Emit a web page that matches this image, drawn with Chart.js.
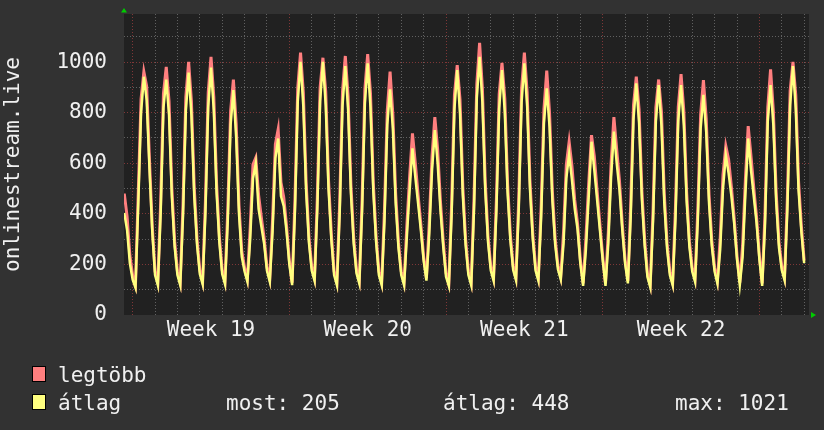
<!DOCTYPE html>
<html>
<head>
<meta charset="utf-8">
<script src="https://cdn.jsdelivr.net/npm/chart.js@4/dist/chart.umd.min.js"></script>
<style>
  html, body { margin: 0; padding: 0; background: #323232; }
  canvas { display: block; }
</style>
</head>
<body>
<canvas id="chart" width="824" height="430"></canvas>
<script>
// samples every 3 hours, hour 0 = start of Week 19
const firstHour = -9;
const hourStep = 3;

// átlag (average), one row per day: 0h 3h 6h 9h 12h 15h 18h 21h
const avgValues = [
  403, 336, 204,
  140, 108, 440, 800, 942, 850, 580, 330,
  158, 118, 400, 820, 931, 790, 468, 270,
  158, 118, 395, 807, 958, 790, 471, 278,
  162, 122, 404, 824, 978, 807, 482, 285,
  162, 122, 375, 751, 889, 700, 400, 230,
  172, 132, 300, 540, 600, 420, 350, 280,
  175, 132, 330, 620, 698, 470, 430, 330,
  200, 118, 409, 842, 1001, 824, 489, 286,
  176, 136, 421, 845, 1001, 828, 499, 300,
  158, 118, 404, 828, 984, 811, 482, 283,
  165, 125, 412, 838, 995, 821, 490, 290,
  158, 118, 373, 753, 892, 737, 443, 265,
  158, 118, 310, 494, 659, 547, 442, 336,
  215, 136, 320, 573, 731, 600, 415, 270,
  151, 115, 396, 814, 968, 797, 473, 277,
  158, 118, 416, 858, 1021, 840, 497, 290,
  176, 136, 411, 818, 968, 802, 485, 294,
  178, 138, 421, 841, 995, 824, 498, 301,
  176, 136, 387, 759, 896, 744, 455, 280,
  181, 141, 283, 540, 636, 534, 420, 340,
  204, 115, 260, 468, 685, 573, 455, 336,
  217, 115, 283, 547, 725, 600, 494, 336,
  204, 125, 386, 774, 916, 758, 457, 275,
  150, 110, 374, 765, 909, 749, 446, 262,
  158, 118, 379, 767, 909, 751, 450, 268,
  172, 132, 376, 737, 870, 722, 442, 272,
  172, 125, 260, 500, 632, 560, 470, 360,
  220, 118, 230, 480, 698, 573, 468, 363,
  220, 115, 353, 766, 909, 750, 448, 266,
  178, 138, 417, 832, 984, 815, 493, 330,
  205
];

// legtöbb (max)
const maxValues = [
  480, 390, 235,
  155, 118, 485, 855, 962, 905, 615, 352,
  173, 128, 445, 875, 981, 845, 503, 292,
  173, 128, 440, 862, 1001, 845, 506, 300,
  177, 132, 449, 879, 1021, 862, 517, 307,
  177, 132, 420, 806, 931, 755, 435, 252,
  187, 142, 345, 595, 622, 475, 385, 302,
  190, 142, 375, 675, 734, 525, 465, 352,
  215, 128, 454, 897, 1037, 879, 524, 308,
  191, 146, 466, 900, 1017, 883, 534, 322,
  173, 128, 449, 883, 1024, 866, 517, 305,
  180, 135, 457, 893, 1031, 876, 525, 312,
  173, 128, 418, 808, 962, 792, 478, 287,
  173, 128, 355, 549, 718, 602, 477, 358,
  230, 146, 365, 628, 782, 655, 450, 292,
  166, 125, 441, 869, 988, 852, 508, 299,
  173, 128, 461, 913, 1076, 895, 532, 312,
  191, 146, 456, 873, 997, 857, 520, 316,
  193, 148, 466, 896, 1037, 879, 533, 323,
  191, 146, 432, 814, 966, 799, 490, 302,
  196, 151, 328, 595, 685, 589, 455, 362,
  219, 125, 305, 523, 711, 628, 490, 358,
  232, 125, 328, 602, 782, 655, 529, 358,
  219, 135, 431, 829, 942, 813, 492, 297,
  165, 120, 419, 820, 931, 804, 481, 284,
  173, 128, 424, 822, 952, 806, 485, 290,
  187, 142, 421, 792, 929, 777, 477, 294,
  187, 135, 305, 555, 668, 615, 505, 382,
  235, 128, 275, 535, 747, 628, 503, 385,
  235, 125, 398, 821, 971, 805, 483, 288,
  193, 148, 462, 887, 1001, 870, 528, 352,
  215
];

const weekLabels = ['Week 19', 'Week 20', 'Week 21', 'Week 22'];
const weekMidHours = [84, 252, 420, 588];
const dayHours = [0, 24, 48, 72, 96, 120, 144, 168, 192, 216, 240, 264, 288, 312, 336, 360,
  384, 408, 432, 456, 480, 504, 528, 552, 576, 600, 624, 648, 672, 696, 720];
const yTicks = [0, 100, 200, 300, 400, 500, 600, 700, 800, 900, 1000, 1100];

const seriesNames = ['legtöbb', 'átlag'];
const legendStats = ['most: 205', 'átlag: 448', 'max: 1021'];
const yTitle = 'onlinestream.live';

const RED = '#ff7f7f';
const YELLOW = '#ffff7f';
const MAJOR = 'rgba(190, 70, 70, 0.6)';
const MINOR = 'rgba(140, 140, 140, 0.6)';
const FONT = '"DejaVu Sans Mono", monospace';

const toPoints = arr => arr.map((v, i) => ({ x: firstHour + i * hourStep, y: v }));

const noPad = scale => {
  scale.paddingTop = 0;
  scale.paddingBottom = 0;
  scale.paddingLeft = 0;
  scale.paddingRight = 0;
};

const rrdLook = {
  id: 'rrdLook',
  beforeDraw(chart) {
    const { ctx, chartArea: a } = chart;
    ctx.save();
    ctx.fillStyle = '#323232';
    ctx.fillRect(0, 0, chart.width, chart.height);
    ctx.fillStyle = '#212121';
    ctx.fillRect(a.left, a.top, a.right - a.left, a.bottom - a.top);
    ctx.restore();
  },
  afterDraw(chart) {
    const { ctx, chartArea: a } = chart;
    ctx.save();
    // arrows
    ctx.fillStyle = '#00cc00';
    ctx.beginPath();
    ctx.moveTo(a.left, a.top - 6);
    ctx.lineTo(a.left - 3, a.top - 1.5);
    ctx.lineTo(a.left + 3, a.top - 1.5);
    ctx.fill();
    ctx.beginPath();
    ctx.moveTo(a.right + 7, a.bottom);
    ctx.lineTo(a.right + 2, a.bottom - 3);
    ctx.lineTo(a.right + 2, a.bottom + 3);
    ctx.fill();

    // y title
    ctx.fillStyle = '#f0f0f0';
    ctx.font = '21px ' + FONT;
    ctx.translate(18.5, (a.top + a.bottom) / 2);
    ctx.rotate(-Math.PI / 2);
    ctx.textAlign = 'center';
    ctx.textBaseline = 'alphabetic';
    ctx.fillText(yTitle, 0, 0);
    ctx.setTransform(1, 0, 0, 1, 0, 0);

    // legend
    const rows = [382, 410];
    const colors = [RED, YELLOW];
    ctx.textAlign = 'left';
    rows.forEach((base, i) => {
      ctx.fillStyle = colors[i];
      ctx.fillRect(32, base - 16, 14, 16);
      ctx.strokeStyle = '#000';
      ctx.lineWidth = 1;
      ctx.strokeRect(32.5, base - 15.5, 13, 15);
      ctx.fillStyle = '#f0f0f0';
      ctx.fillText(seriesNames[i], 58, base);
    });
    const statX = [226, 443, 675];
    legendStats.forEach((s, i) => ctx.fillText(s, statX[i], rows[1]));
    ctx.restore();
  }
};

new Chart(document.getElementById('chart'), {
  type: 'line',
  data: {
    datasets: [
      {
        label: seriesNames[1],
        data: toPoints(avgValues),
        borderColor: YELLOW,
        borderWidth: 2.5,
        pointRadius: 0,
        tension: 0,
        order: 1
      },
      {
        label: seriesNames[0],
        data: toPoints(maxValues),
        borderColor: RED,
        borderWidth: 3,
        pointRadius: 0,
        tension: 0,
        order: 2
      }
    ]
  },
  options: {
    responsive: false,
    animation: false,
    layout: { padding: { left: 0, top: 14, right: 15, bottom: 75 } },
    plugins: { legend: { display: false }, tooltip: { enabled: false } },
    scales: {
      x: {
        type: 'linear',
        min: -9.3,
        max: 725.2,
        afterFit(scale) { scale.height = 40; noPad(scale); },
        afterBuildTicks(scale) {
          scale.ticks = dayHours.concat(weekMidHours).sort((p, q) => p - q).map(v => ({ value: v }));
        },
        ticks: {
          autoSkip: false,
          maxRotation: 0,
          padding: 3,
          color: '#f0f0f0',
          font: { family: FONT, size: 21 },
          callback(v) {
            const i = weekMidHours.indexOf(v);
            return i >= 0 ? weekLabels[i] : '';
          }
        },
        grid: {
          drawTicks: false,
          lineWidth: 1,
          color(c) {
            const v = c.tick && c.tick.value;
            if (v % 168 === 0) return MAJOR;
            if (v % 24 === 0) return MINOR;
            return 'rgba(0,0,0,0)';
          }
        },
        border: { display: false, dash: [1, 2] }
      },
      y: {
        min: 0,
        max: 1190,
        afterFit(scale) { scale.width = 124; noPad(scale); },
        afterBuildTicks(scale) {
          scale.ticks = yTicks.map(v => ({ value: v }));
        },
        ticks: {
          autoSkip: false,
          padding: 17,
          color: '#f0f0f0',
          font: { family: FONT, size: 21 },
          callback(v) { return v % 200 === 0 ? String(v) : ''; }
        },
        grid: {
          drawTicks: false,
          lineWidth: 1,
          color(c) {
            const v = c.tick && c.tick.value;
            if (v === 0) return 'rgba(0,0,0,0)';
            return v % 200 === 0 ? MAJOR : MINOR;
          }
        },
        border: { display: false, dash: [1, 2] }
      }
    }
  },
  plugins: [rrdLook]
});
</script>
</body>
</html>
